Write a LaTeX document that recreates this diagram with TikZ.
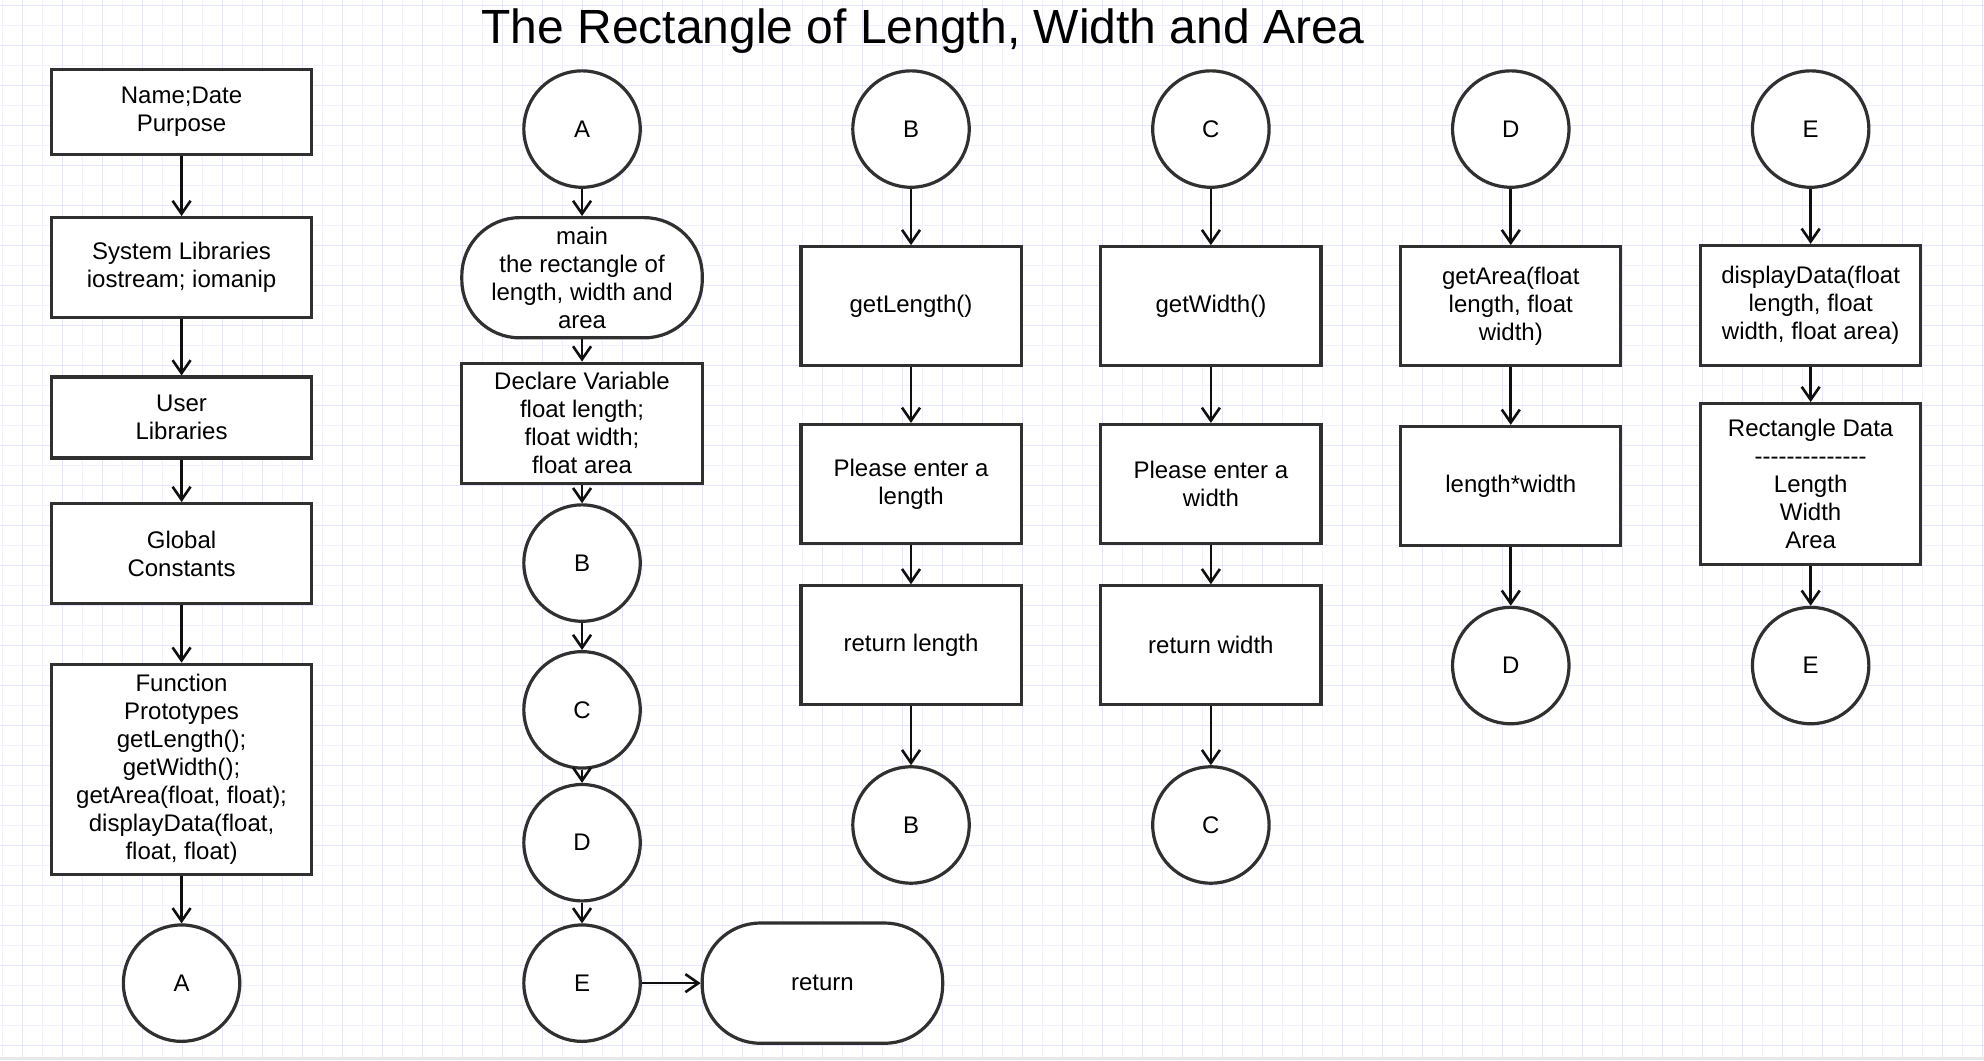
\documentclass[tikz,border=0pt]{standalone}
\usepackage{fontspec}
\setmainfont{Liberation Sans}
\usetikzlibrary{arrows.meta}
\definecolor{lc}{RGB}{48,48,48}
\definecolor{ac}{RGB}{15,15,15}
\definecolor{gmin}{RGB}{241,241,254}
\definecolor{gmaj}{RGB}{229,229,252}
\definecolor{strip}{RGB}{232,232,232}
\def\U{0.6327pt}
\tikzset{
  box/.style={draw=lc, line width=1.6pt, fill=white, align=center, inner sep=2pt,
    font=\fontsize{12}{14}\selectfont},
  lbox/.style={box, minimum width=205*\U},
  sbox/.style={box, minimum width=174*\U, minimum height=94*\U},
  conn/.style={box, circle, minimum size=92*\U},
  term/.style={box, rounded corners=29pt, minimum width=190*\U, minimum height=95*\U},
  arr/.style={draw=ac, line width=1.3pt, -{Straight Barb[length=6.5pt,width=9pt]}}
}
\begin{document}
\begin{tikzpicture}[x=0.6327pt, y=-0.6327pt]
\useasboundingbox (0,0) rectangle (1568,838);
\fill[white] (0,0) rectangle (1568,838);
% grid
\foreach \k in {0,2,...,98} {\draw[gmin, line width=0.5pt] ({(2.7+20*\k)/1.2653},0) -- ++(0,835);}
\foreach \k in {1,3,...,99} {\draw[gmaj, line width=0.5pt] ({(2.7+20*\k)/1.2653},0) -- ++(0,835);}
\foreach \k in {1,3,...,51} {\draw[gmin, line width=0.5pt] (0,{(5+20*\k)/1.2653}) -- ++(1568,0);}
\foreach \k in {0,2,...,52} {\draw[gmaj, line width=0.5pt] (0,{(5+20*\k)/1.2653}) -- ++(1568,0);}
\fill[strip] (0,835.5) rectangle (1568,838);

% title
\node[font=\fontsize{24}{28}\selectfont, inner sep=0pt] (title) at (729.5,24.5) {The Rectangle of Length, Width and Area};

% column 1
\node[lbox, minimum height=67*\U] (n1) at (143.5,88.5) {Name;Date\\Purpose};
\node[lbox, minimum height=79*\U] (n2) at (143.5,211.5) {System Libraries\\iostream; iomanip};
\node[lbox, minimum height=64*\U] (n3) at (143.5,330) {User\\Libraries};
\node[lbox, minimum height=79*\U] (n4) at (143.5,437.5) {Global\\Constants};
\node[lbox, minimum height=166*\U] (n5) at (143.5,608) {Function\\Prototypes\\getLength();\\getWidth();\\getArea(float, float);\\displayData(float,\\float, float)};
\node[conn] (a1) at (143.5,777) {A};
\draw[arr] (n1) -- (n2);
\draw[arr] (n2) -- (n3);
\draw[arr] (n3) -- (n4);
\draw[arr] (n4) -- (n5);
\draw[arr] (n5) -- (a1);

% column 2
\node[conn] (a2) at (460,102) {A};
\node[term] (main) at (460,219.5) {main\\the rectangle of\\length, width and\\area};
\node[box, minimum width=190*\U, minimum height=95*\U] (decl) at (460,334.5) {Declare Variable\\float length;\\float width;\\float area};
\node[conn] (b2) at (460,445) {B};
\node[conn] (c2) at (460,561) {C};
\node[conn] (d2) at (460,666) {D};
\node[conn] (e2) at (460,777) {E};
\node[term] (ret) at (650,777) {return};
\draw[arr] (a2) -- (main);
\draw[arr] (main) -- (decl);
\draw[arr] (decl) -- (b2);
\draw[arr] (b2) -- (c2);
\draw[arr] (c2) -- (d2);
\draw[arr] (d2) -- (e2);
\draw[arr] (e2) -- (ret);

% column 3
\node[conn] (b3) at (720,102) {B};
\node[sbox] (gl) at (720,242) {getLength()};
\node[sbox] (pl) at (720,382.5) {Please enter a\\length};
\node[sbox] (rl) at (720,510) {return length};
\node[conn] (b3e) at (720,652) {B};
\draw[arr] (b3) -- (gl);
\draw[arr] (gl) -- (pl);
\draw[arr] (pl) -- (rl);
\draw[arr] (rl) -- (b3e);

% column 4
\node[conn] (c4) at (957,102) {C};
\node[sbox] (gw) at (957,242) {getWidth()};
\node[sbox] (pw) at (957,382.5) {Please enter a\\width};
\node[sbox] (rw) at (957,510) {return width};
\node[conn] (c4e) at (957,652) {C};
\draw[arr] (c4) -- (gw);
\draw[arr] (gw) -- (pw);
\draw[arr] (pw) -- (rw);
\draw[arr] (rw) -- (c4e);

% column 5
\node[conn] (d5) at (1194,102) {D};
\node[sbox] (ga) at (1194,242) {getArea(float\\length, float\\width)};
\node[sbox] (lw) at (1194,384) {length*width};
\node[conn] (d5e) at (1194,526) {D};
\draw[arr] (d5) -- (ga);
\draw[arr] (ga) -- (lw);
\draw[arr] (lw) -- (d5e);

% column 6
\node[conn] (e6) at (1431,102) {E};
\node[sbox, minimum height=95*\U] (dd) at (1431,241.5) {displayData(float\\length, float\\width, float area)};
\node[sbox, minimum height=127*\U] (rd) at (1431,382.5) {Rectangle Data\\-{}-{}-{}-{}-{}-{}-{}-{}-{}-{}-{}-{}-{}-\\Length\\Width\\Area};
\node[conn] (e6e) at (1431,526) {E};
\draw[arr] (e6) -- (dd);
\draw[arr] (dd) -- (rd);
\draw[arr] (rd) -- (e6e);
\end{tikzpicture}
\end{document}
